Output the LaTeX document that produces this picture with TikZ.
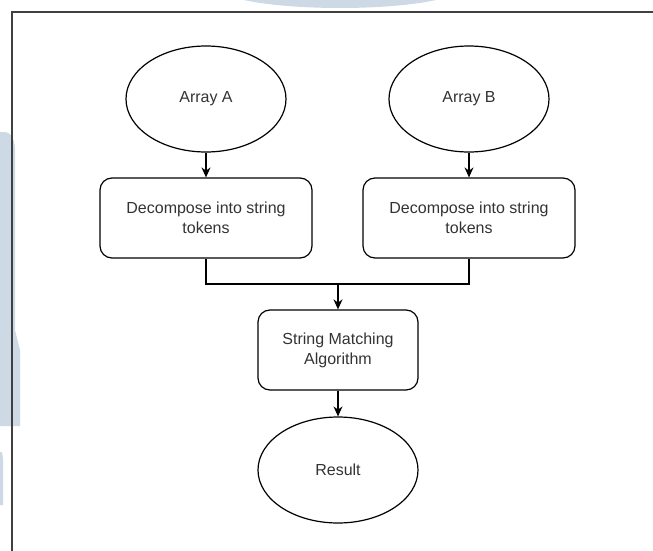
\documentclass[tikz,border=0pt]{standalone}
\usepackage{fontspec}
\setmainfont{Liberation Sans}
\usetikzlibrary{shapes.geometric,arrows.meta}

\definecolor{wmblue}{RGB}{205,217,229}
\definecolor{txtgray}{RGB}{51,51,51}

\begin{document}
\begin{tikzpicture}[
  x=1pt, y=-1pt, font=\fontsize{16}{20}\selectfont,
  oval/.style={draw, ellipse, line width=1.2pt, minimum width=160pt, minimum height=106pt, inner sep=0pt, text=txtgray},
  box/.style={draw, rounded corners=12pt, line width=1.2pt, minimum height=80pt, minimum width=#1, align=center, inner sep=0pt, text=txtgray},
  link/.style={line width=1.2pt},
  arr/.style={-{Stealth[length=10pt,width=9pt]}, line width=1.2pt}
]
\useasboundingbox (0,0) rectangle (653,551);

%% Faint background marks
\fill[wmblue] (340,-12) ellipse [x radius=120, y radius=20];
\fill[wmblue] (0,132) -- (4,132) to[out=0,in=90] (15,150) -- (15,330) -- (20,350) -- (20,426) -- (0,426) -- cycle;
\fill[wmblue] (0,452) -- (2,452) -- (3,458) -- (3,505) -- (0,505) -- cycle;

%% Frame
\draw[line width=1.4pt, black!75] (12,551) -- (12,12) -- (653,12);

%% Inputs
\node[oval] (arrA) at (206,99) {Array A};
\node[oval] (arrB) at (469,99) {Array B};

%% Tokenising
\node[box=212pt] (tokA) at (206,218) {Decompose into string\\tokens};
\node[box=212pt] (tokB) at (469,218) {Decompose into string\\tokens};

%% Matching and result
\coordinate (join) at (338,284);
\node[box=160pt] (match) at (338,350) {String Matching\\Algorithm};
\node[oval] (result) at (338,470) {Result};

%% Arrows
\draw[arr] (arrA) -- (tokA);
\draw[arr] (arrB) -- (tokB);
\draw[link] (tokA.south) |- (join) -| (tokB.south);
\draw[arr, line width=2pt] (join) -- (match);
\draw[arr] (match) -- (result);
\end{tikzpicture}
\end{document}
